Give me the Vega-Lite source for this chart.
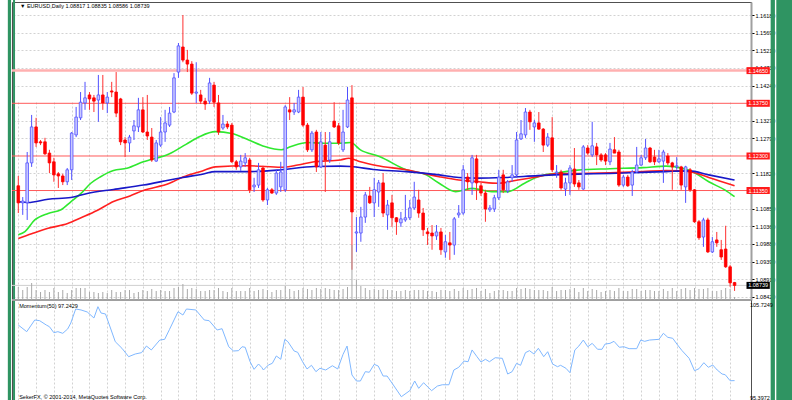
{
  "$schema": "https://vega.github.io/schema/vega-lite/v6.json",
  "width": 739,
  "height": 398,
  "autosize": {"type": "none"},
  "padding": {"left": 12, "top": 2, "right": 41, "bottom": 0},
  "background": "white",
  "config": {"view": {"stroke": "#505050", "strokeWidth": 1}, "font": "Liberation Sans", "axis": {"labelOverlap": false, "labelSeparation": 0}},
  "datasets": {
    "candles": [
      {"i":0,"o":1.1148,"h":1.1175,"l":1.1073,"c":1.1101,"v":13},
      {"i":1,"o":1.1101,"h":1.1117,"l":1.1068,"c":1.1106,"v":10},
      {"i":2,"o":1.1101,"h":1.1241,"l":1.1054,"c":1.1211,"v":13},
      {"i":3,"o":1.1211,"h":1.1343,"l":1.12,"c":1.131,"v":17},
      {"i":4,"o":1.131,"h":1.1335,"l":1.1255,"c":1.1266,"v":10},
      {"i":5,"o":1.1269,"h":1.1274,"l":1.126,"c":1.1266,"v":8},
      {"i":6,"o":1.1269,"h":1.128,"l":1.1233,"c":1.1236,"v":10},
      {"i":7,"o":1.1238,"h":1.1247,"l":1.1183,"c":1.1211,"v":8},
      {"i":8,"o":1.1214,"h":1.1225,"l":1.1159,"c":1.1178,"v":12},
      {"i":9,"o":1.1181,"h":1.1186,"l":1.1142,"c":1.1175,"v":8},
      {"i":10,"o":1.1175,"h":1.1181,"l":1.115,"c":1.1159,"v":10},
      {"i":11,"o":1.1159,"h":1.1197,"l":1.115,"c":1.1192,"v":7},
      {"i":12,"o":1.1192,"h":1.1296,"l":1.1164,"c":1.1293,"v":10},
      {"i":13,"o":1.1288,"h":1.1365,"l":1.1282,"c":1.1337,"v":12},
      {"i":14,"o":1.1335,"h":1.1406,"l":1.1329,"c":1.1378,"v":12},
      {"i":15,"o":1.1376,"h":1.1434,"l":1.1357,"c":1.139,"v":12},
      {"i":16,"o":1.1398,"h":1.1406,"l":1.1357,"c":1.1387,"v":8},
      {"i":17,"o":1.139,"h":1.1398,"l":1.1351,"c":1.1381,"v":8},
      {"i":18,"o":1.1384,"h":1.1453,"l":1.1324,"c":1.1398,"v":7},
      {"i":19,"o":1.1398,"h":1.1453,"l":1.1357,"c":1.1376,"v":8},
      {"i":20,"o":1.1376,"h":1.1406,"l":1.1348,"c":1.1392,"v":7},
      {"i":21,"o":1.1409,"h":1.1434,"l":1.1392,"c":1.1406,"v":10},
      {"i":22,"o":1.1406,"h":1.1461,"l":1.1337,"c":1.1348,"v":8},
      {"i":23,"o":1.1387,"h":1.139,"l":1.126,"c":1.1269,"v":8},
      {"i":24,"o":1.1274,"h":1.1282,"l":1.1227,"c":1.1266,"v":10},
      {"i":25,"o":1.1266,"h":1.1288,"l":1.1241,"c":1.1282,"v":10},
      {"i":26,"o":1.1299,"h":1.1329,"l":1.1274,"c":1.1313,"v":7},
      {"i":27,"o":1.131,"h":1.139,"l":1.1296,"c":1.1357,"v":8},
      {"i":28,"o":1.1357,"h":1.1392,"l":1.1293,"c":1.1296,"v":10},
      {"i":29,"o":1.1296,"h":1.1398,"l":1.1274,"c":1.1285,"v":9},
      {"i":30,"o":1.1282,"h":1.1307,"l":1.1214,"c":1.1219,"v":11},
      {"i":31,"o":1.1216,"h":1.1274,"l":1.1214,"c":1.1266,"v":9},
      {"i":32,"o":1.126,"h":1.1337,"l":1.1255,"c":1.1296,"v":10},
      {"i":33,"o":1.1296,"h":1.1357,"l":1.1269,"c":1.1321,"v":9},
      {"i":34,"o":1.1315,"h":1.1365,"l":1.131,"c":1.1348,"v":9},
      {"i":35,"o":1.1351,"h":1.1458,"l":1.1348,"c":1.1445,"v":12},
      {"i":36,"o":1.1461,"h":1.1541,"l":1.1445,"c":1.1533,"v":13},
      {"i":37,"o":1.153,"h":1.1618,"l":1.1488,"c":1.1494,"v":16},
      {"i":38,"o":1.1494,"h":1.1522,"l":1.1461,"c":1.1483,"v":11},
      {"i":39,"o":1.1483,"h":1.1491,"l":1.1398,"c":1.1403,"v":12},
      {"i":40,"o":1.1403,"h":1.1488,"l":1.1376,"c":1.1406,"v":11},
      {"i":41,"o":1.1398,"h":1.1412,"l":1.1373,"c":1.1381,"v":9},
      {"i":42,"o":1.1381,"h":1.139,"l":1.1357,"c":1.1373,"v":9},
      {"i":43,"o":1.1381,"h":1.1445,"l":1.1373,"c":1.1431,"v":10},
      {"i":44,"o":1.1425,"h":1.1434,"l":1.1365,"c":1.1378,"v":10},
      {"i":45,"o":1.1376,"h":1.1398,"l":1.1288,"c":1.1296,"v":12},
      {"i":46,"o":1.1307,"h":1.1343,"l":1.1302,"c":1.1318,"v":9},
      {"i":47,"o":1.1318,"h":1.1326,"l":1.1304,"c":1.131,"v":8},
      {"i":48,"o":1.1315,"h":1.1321,"l":1.1211,"c":1.1214,"v":12},
      {"i":49,"o":1.1214,"h":1.1219,"l":1.1192,"c":1.12,"v":9},
      {"i":50,"o":1.12,"h":1.1233,"l":1.1189,"c":1.1216,"v":9},
      {"i":51,"o":1.1211,"h":1.1238,"l":1.12,"c":1.1225,"v":9},
      {"i":52,"o":1.1219,"h":1.1225,"l":1.1128,"c":1.1137,"v":12},
      {"i":53,"o":1.1145,"h":1.117,"l":1.1131,"c":1.115,"v":9},
      {"i":54,"o":1.115,"h":1.1211,"l":1.1142,"c":1.1192,"v":10},
      {"i":55,"o":1.1197,"h":1.1203,"l":1.1104,"c":1.1109,"v":11},
      {"i":56,"o":1.1109,"h":1.1142,"l":1.1095,"c":1.1137,"v":10},
      {"i":57,"o":1.1137,"h":1.1142,"l":1.1126,"c":1.1128,"v":8},
      {"i":58,"o":1.1128,"h":1.1192,"l":1.1123,"c":1.1183,"v":10},
      {"i":59,"o":1.1145,"h":1.1214,"l":1.1131,"c":1.1186,"v":10},
      {"i":60,"o":1.1137,"h":1.137,"l":1.1131,"c":1.1365,"v":14},
      {"i":61,"o":1.1357,"h":1.1392,"l":1.1329,"c":1.1351,"v":11},
      {"i":62,"o":1.1351,"h":1.1376,"l":1.1343,"c":1.1357,"v":9},
      {"i":63,"o":1.1351,"h":1.1412,"l":1.1348,"c":1.1392,"v":10},
      {"i":64,"o":1.1392,"h":1.142,"l":1.131,"c":1.1315,"v":12},
      {"i":65,"o":1.1315,"h":1.1321,"l":1.1241,"c":1.1247,"v":11},
      {"i":66,"o":1.1247,"h":1.1299,"l":1.1241,"c":1.1293,"v":10},
      {"i":67,"o":1.1296,"h":1.1302,"l":1.1186,"c":1.12,"v":12},
      {"i":68,"o":1.12,"h":1.1296,"l":1.1197,"c":1.1269,"v":11},
      {"i":69,"o":1.126,"h":1.1296,"l":1.1131,"c":1.1219,"v":12},
      {"i":70,"o":1.1219,"h":1.1296,"l":1.1211,"c":1.1269,"v":11},
      {"i":71,"o":1.1326,"h":1.1378,"l":1.1307,"c":1.131,"v":10},
      {"i":72,"o":1.1313,"h":1.1321,"l":1.126,"c":1.1266,"v":10},
      {"i":73,"o":1.1247,"h":1.1357,"l":1.1241,"c":1.1296,"v":11},
      {"i":74,"o":1.131,"h":1.142,"l":1.1307,"c":1.1384,"v":13},
      {"i":75,"o":1.139,"h":1.1425,"l":1.0917,"c":1.1076,"v":55},
      {"i":76,"o":1.1018,"h":1.1062,"l":1.0966,"c":1.1021,"v":20},
      {"i":77,"o":1.1018,"h":1.109,"l":1.0994,"c":1.1062,"v":14},
      {"i":78,"o":1.1062,"h":1.1131,"l":1.1046,"c":1.1123,"v":12},
      {"i":79,"o":1.112,"h":1.1145,"l":1.1098,"c":1.1101,"v":10},
      {"i":80,"o":1.1101,"h":1.117,"l":1.1062,"c":1.1137,"v":11},
      {"i":81,"o":1.1131,"h":1.1164,"l":1.109,"c":1.1156,"v":10},
      {"i":82,"o":1.1156,"h":1.1183,"l":1.1062,"c":1.1073,"v":11},
      {"i":83,"o":1.1068,"h":1.1109,"l":1.1027,"c":1.1095,"v":10},
      {"i":84,"o":1.1101,"h":1.1123,"l":1.1035,"c":1.106,"v":10},
      {"i":85,"o":1.106,"h":1.1062,"l":1.1013,"c":1.1049,"v":9},
      {"i":86,"o":1.1046,"h":1.1076,"l":1.1035,"c":1.1057,"v":9},
      {"i":87,"o":1.1054,"h":1.1123,"l":1.1049,"c":1.106,"v":10},
      {"i":88,"o":1.106,"h":1.1109,"l":1.1054,"c":1.1087,"v":9},
      {"i":89,"o":1.1087,"h":1.1159,"l":1.1082,"c":1.1117,"v":10},
      {"i":90,"o":1.1109,"h":1.1137,"l":1.106,"c":1.1073,"v":10},
      {"i":91,"o":1.1073,"h":1.1087,"l":1.101,"c":1.1027,"v":10},
      {"i":92,"o":1.1021,"h":1.1032,"l":1.0985,"c":1.1016,"v":9},
      {"i":93,"o":1.1018,"h":1.104,"l":1.0972,"c":1.101,"v":9},
      {"i":94,"o":1.101,"h":1.104,"l":1.0999,"c":1.1021,"v":8},
      {"i":95,"o":1.1021,"h":1.1032,"l":1.0958,"c":1.0972,"v":10},
      {"i":96,"o":1.0966,"h":1.1013,"l":1.095,"c":1.0994,"v":10},
      {"i":97,"o":1.0991,"h":1.1021,"l":1.0944,"c":1.0985,"v":9},
      {"i":98,"o":1.0985,"h":1.1062,"l":1.0958,"c":1.1057,"v":11},
      {"i":99,"o":1.1068,"h":1.1095,"l":1.106,"c":1.1073,"v":9},
      {"i":100,"o":1.1073,"h":1.1205,"l":1.1068,"c":1.1192,"v":12},
      {"i":101,"o":1.1172,"h":1.1183,"l":1.1137,"c":1.1159,"v":10},
      {"i":102,"o":1.1156,"h":1.1233,"l":1.1123,"c":1.1225,"v":11},
      {"i":103,"o":1.1222,"h":1.1233,"l":1.1109,"c":1.1156,"v":12},
      {"i":104,"o":1.1148,"h":1.1156,"l":1.112,"c":1.1128,"v":9},
      {"i":105,"o":1.1128,"h":1.1137,"l":1.1049,"c":1.1084,"v":11},
      {"i":106,"o":1.1082,"h":1.1095,"l":1.1076,"c":1.1087,"v":7},
      {"i":107,"o":1.1084,"h":1.1123,"l":1.1076,"c":1.1115,"v":9},
      {"i":108,"o":1.1115,"h":1.1192,"l":1.1109,"c":1.1172,"v":10},
      {"i":109,"o":1.1178,"h":1.1192,"l":1.1128,"c":1.1137,"v":10},
      {"i":110,"o":1.1134,"h":1.1164,"l":1.1128,"c":1.1159,"v":9},
      {"i":111,"o":1.117,"h":1.1205,"l":1.1159,"c":1.1178,"v":9},
      {"i":112,"o":1.1178,"h":1.1296,"l":1.117,"c":1.1274,"v":12},
      {"i":113,"o":1.1277,"h":1.1329,"l":1.1274,"c":1.1291,"v":11},
      {"i":114,"o":1.1288,"h":1.1362,"l":1.128,"c":1.1351,"v":12},
      {"i":115,"o":1.1351,"h":1.1357,"l":1.1302,"c":1.1324,"v":11},
      {"i":116,"o":1.131,"h":1.1329,"l":1.1269,"c":1.1321,"v":10},
      {"i":117,"o":1.1321,"h":1.1351,"l":1.1302,"c":1.1304,"v":10},
      {"i":118,"o":1.1304,"h":1.1307,"l":1.1241,"c":1.126,"v":10},
      {"i":119,"o":1.126,"h":1.1293,"l":1.1255,"c":1.1282,"v":9},
      {"i":120,"o":1.128,"h":1.1337,"l":1.1186,"c":1.1192,"v":13},
      {"i":121,"o":1.1183,"h":1.1205,"l":1.117,"c":1.1186,"v":9},
      {"i":122,"o":1.1186,"h":1.1192,"l":1.1137,"c":1.1142,"v":10},
      {"i":123,"o":1.1139,"h":1.117,"l":1.112,"c":1.1156,"v":10},
      {"i":124,"o":1.1156,"h":1.1205,"l":1.1123,"c":1.1197,"v":11},
      {"i":125,"o":1.1194,"h":1.1252,"l":1.1145,"c":1.1153,"v":12},
      {"i":126,"o":1.1156,"h":1.1164,"l":1.1137,"c":1.1145,"v":8},
      {"i":127,"o":1.1139,"h":1.126,"l":1.1137,"c":1.1255,"v":12},
      {"i":128,"o":1.1252,"h":1.126,"l":1.1233,"c":1.1238,"v":9},
      {"i":129,"o":1.1233,"h":1.1324,"l":1.1227,"c":1.1258,"v":11},
      {"i":130,"o":1.1255,"h":1.1266,"l":1.1205,"c":1.1233,"v":10},
      {"i":131,"o":1.1233,"h":1.1238,"l":1.1214,"c":1.1219,"v":8},
      {"i":132,"o":1.1233,"h":1.1238,"l":1.1205,"c":1.1216,"v":9},
      {"i":133,"o":1.1214,"h":1.1266,"l":1.1205,"c":1.1249,"v":10},
      {"i":134,"o":1.1247,"h":1.1282,"l":1.1238,"c":1.1238,"v":9},
      {"i":135,"o":1.1241,"h":1.1247,"l":1.1145,"c":1.115,"v":12},
      {"i":136,"o":1.115,"h":1.1178,"l":1.1145,"c":1.1172,"v":9},
      {"i":137,"o":1.1172,"h":1.1178,"l":1.1145,"c":1.1148,"v":9},
      {"i":138,"o":1.115,"h":1.1192,"l":1.112,"c":1.1186,"v":11},
      {"i":139,"o":1.1186,"h":1.1255,"l":1.1183,"c":1.1205,"v":11},
      {"i":140,"o":1.1205,"h":1.1233,"l":1.1203,"c":1.1225,"v":9},
      {"i":141,"o":1.1225,"h":1.1277,"l":1.1219,"c":1.1252,"v":10},
      {"i":142,"o":1.1252,"h":1.1255,"l":1.1211,"c":1.1214,"v":10},
      {"i":143,"o":1.1227,"h":1.1247,"l":1.1205,"c":1.1214,"v":9},
      {"i":144,"o":1.1214,"h":1.1247,"l":1.1211,"c":1.1222,"v":9},
      {"i":145,"o":1.1216,"h":1.1247,"l":1.1156,"c":1.1241,"v":11},
      {"i":146,"o":1.123,"h":1.1238,"l":1.1205,"c":1.1211,"v":9},
      {"i":147,"o":1.1211,"h":1.1214,"l":1.1137,"c":1.12,"v":12},
      {"i":148,"o":1.12,"h":1.1227,"l":1.1192,"c":1.1203,"v":9},
      {"i":149,"o":1.12,"h":1.1203,"l":1.1137,"c":1.115,"v":11},
      {"i":150,"o":1.1145,"h":1.1203,"l":1.1101,"c":1.12,"v":12},
      {"i":151,"o":1.1192,"h":1.1197,"l":1.1131,"c":1.1137,"v":10},
      {"i":152,"o":1.1137,"h":1.1139,"l":1.1046,"c":1.1049,"v":12},
      {"i":153,"o":1.1049,"h":1.1054,"l":1.0999,"c":1.1005,"v":11},
      {"i":154,"o":1.1007,"h":1.106,"l":1.098,"c":1.1054,"v":11},
      {"i":155,"o":1.1054,"h":1.106,"l":1.0963,"c":1.0966,"v":12},
      {"i":156,"o":1.0966,"h":1.1007,"l":1.0963,"c":1.0994,"v":9},
      {"i":157,"o":1.0999,"h":1.1021,"l":1.098,"c":1.0991,"v":9},
      {"i":158,"o":1.0972,"h":1.0999,"l":1.0944,"c":1.0952,"v":10},
      {"i":159,"o":1.0974,"h":1.1038,"l":1.0922,"c":1.0925,"v":12},
      {"i":160,"o":1.0925,"h":1.093,"l":1.087,"c":1.0881,"v":11},
      {"i":161,"o":1.08817,"h":1.08835,"l":1.08586,"c":1.08739,"v":3}
    ],
    "ma": [
      {"k":"g","i":0,"p":1.1013},{"k":"g","i":1.5,"p":1.1022},{"k":"g","i":3.7,"p":1.1054},{"k":"g","i":6.7,"p":1.1072},{"k":"g","i":9.6,"p":1.1082},{"k":"g","i":11.8,"p":1.1104},{"k":"g","i":14.1,"p":1.1127},{"k":"g","i":16.3,"p":1.1155},{"k":"g","i":18.5,"p":1.1173},{"k":"g","i":21.4,"p":1.119},{"k":"g","i":24.4,"p":1.1196},{"k":"g","i":28.1,"p":1.1214},{"k":"g","i":34,"p":1.1236},{"k":"g","i":37.7,"p":1.1262},{"k":"g","i":40.7,"p":1.1283},{"k":"g","i":44.3,"p":1.1297},{"k":"g","i":48,"p":1.1292},{"k":"g","i":51.8,"p":1.1274},{"k":"g","i":55.4,"p":1.1256},{"k":"g","i":59.1,"p":1.1247},{"k":"g","i":61.3,"p":1.1256},{"k":"g","i":65,"p":1.1267},{"k":"g","i":68.7,"p":1.1265},{"k":"g","i":72.4,"p":1.1265},{"k":"g","i":74.7,"p":1.1267},{"k":"g","i":76.9,"p":1.1247},{"k":"g","i":81.3,"p":1.1228},{"k":"g","i":87.2,"p":1.1192},{"k":"g","i":91.7,"p":1.1178},{"k":"g","i":94.6,"p":1.1155},{"k":"g","i":98.3,"p":1.1132},{"k":"g","i":102,"p":1.1141},{"k":"g","i":106.4,"p":1.1132},{"k":"g","i":110.1,"p":1.1132},{"k":"g","i":113.8,"p":1.1155},{"k":"g","i":116.8,"p":1.1173},{"k":"g","i":120.5,"p":1.1182},{"k":"g","i":125.7,"p":1.1191},{"k":"g","i":133,"p":1.1195},{"k":"g","i":140.4,"p":1.1198},{"k":"g","i":145.6,"p":1.1202},{"k":"g","i":149.3,"p":1.1196},{"k":"g","i":151.5,"p":1.1187},{"k":"g","i":155.2,"p":1.1159},{"k":"g","i":158.9,"p":1.1136},{"k":"g","i":161,"p":1.1118},
      {"k":"r","i":0,"p":1.1003},{"k":"r","i":3,"p":1.1016},{"k":"r","i":6.7,"p":1.1031},{"k":"r","i":11.1,"p":1.1044},{"k":"r","i":14.1,"p":1.106},{"k":"r","i":17.7,"p":1.108},{"k":"r","i":21.4,"p":1.1105},{"k":"r","i":25.1,"p":1.112},{"k":"r","i":28.1,"p":1.1135},{"k":"r","i":34,"p":1.1155},{"k":"r","i":37,"p":1.1172},{"k":"r","i":41.4,"p":1.1189},{"k":"r","i":44.3,"p":1.12},{"k":"r","i":51.8,"p":1.1203},{"k":"r","i":59.1,"p":1.1199},{"k":"r","i":62.8,"p":1.1205},{"k":"r","i":66.5,"p":1.1214},{"k":"r","i":72.4,"p":1.1219},{"k":"r","i":74.3,"p":1.1224},{"k":"r","i":76.9,"p":1.1214},{"k":"r","i":80.5,"p":1.1204},{"k":"r","i":87.2,"p":1.1192},{"k":"r","i":94.6,"p":1.1173},{"k":"r","i":99,"p":1.1164},{"k":"r","i":103.5,"p":1.1159},{"k":"r","i":107.9,"p":1.1155},{"k":"r","i":112.3,"p":1.1164},{"k":"r","i":116.8,"p":1.1173},{"k":"r","i":120.5,"p":1.1181},{"k":"r","i":125.7,"p":1.1182},{"k":"r","i":133,"p":1.1184},{"k":"r","i":140.4,"p":1.1187},{"k":"r","i":145.6,"p":1.119},{"k":"r","i":150.8,"p":1.1187},{"k":"r","i":155.2,"p":1.1171},{"k":"r","i":161,"p":1.1148},
      {"k":"b","i":0,"p":1.1104},{"k":"b","i":2.2,"p":1.1102},{"k":"b","i":6.7,"p":1.1111},{"k":"b","i":11.8,"p":1.1116},{"k":"b","i":15.5,"p":1.1127},{"k":"b","i":21.4,"p":1.1138},{"k":"b","i":28.1,"p":1.115},{"k":"b","i":34,"p":1.1164},{"k":"b","i":37,"p":1.1171},{"k":"b","i":41.4,"p":1.118},{"k":"b","i":44.3,"p":1.1187},{"k":"b","i":51.8,"p":1.1187},{"k":"b","i":59.1,"p":1.1192},{"k":"b","i":66.5,"p":1.1201},{"k":"b","i":72.4,"p":1.1202},{"k":"b","i":74.7,"p":1.1201},{"k":"b","i":79.8,"p":1.1193},{"k":"b","i":87.2,"p":1.1187},{"k":"b","i":94.6,"p":1.1178},{"k":"b","i":99,"p":1.1171},{"k":"b","i":103.5,"p":1.1169},{"k":"b","i":109.4,"p":1.1171},{"k":"b","i":116.8,"p":1.1176},{"k":"b","i":120.5,"p":1.1178},{"k":"b","i":125.7,"p":1.118},{"k":"b","i":133,"p":1.1182},{"k":"b","i":140.4,"p":1.1185},{"k":"b","i":145.6,"p":1.1187},{"k":"b","i":150.8,"p":1.1189},{"k":"b","i":155.2,"p":1.1178},{"k":"b","i":161,"p":1.1164}
    ],
    "mom": [
      {"i":0,"m":103.62},{"i":1.9,"m":102.86},{"i":3.7,"m":104.2},{"i":4.8,"m":104.12},{"i":6.3,"m":103.62},{"i":7,"m":103.43},{"i":8,"m":102.74},{"i":8.9,"m":102.86},{"i":10,"m":102.67},{"i":11.1,"m":103.17},{"i":11.8,"m":103.85},{"i":12.9,"m":105.46},{"i":14.1,"m":105.35},{"i":15.5,"m":105.12},{"i":17,"m":104.43},{"i":17.9,"m":105.7249},{"i":18.6,"m":105.0},{"i":19.6,"m":104.89},{"i":21.8,"m":101.71},{"i":23.3,"m":100.95},{"i":24.8,"m":99.99},{"i":26.3,"m":100.3},{"i":27.7,"m":100.45},{"i":28.8,"m":101.21},{"i":29.9,"m":100.76},{"i":31.8,"m":101.9},{"i":32.9,"m":101.98},{"i":34,"m":103.13},{"i":35.9,"m":105.15},{"i":37,"m":104.77},{"i":37.8,"m":105.46},{"i":39.9,"m":105.35},{"i":41.8,"m":104.2},{"i":42.9,"m":104.12},{"i":44.7,"m":103.05},{"i":45.8,"m":103.2},{"i":47.3,"m":101.13},{"i":48.4,"m":100.64},{"i":49.5,"m":100.68},{"i":50.3,"m":101.13},{"i":51,"m":101.07},{"i":52.1,"m":99.41},{"i":53,"m":98.54},{"i":54,"m":99.15},{"i":54.7,"m":98.77},{"i":55.1,"m":98.46},{"i":56.2,"m":99.03},{"i":57.1,"m":99.23},{"i":58,"m":100.07},{"i":59,"m":99.69},{"i":59.9,"m":101.98},{"i":60.6,"m":101.71},{"i":62,"m":100.64},{"i":62.8,"m":100.49},{"i":63.9,"m":99.41},{"i":64.9,"m":98.58},{"i":65.9,"m":99.0},{"i":66.9,"m":98.27},{"i":67.8,"m":98.66},{"i":69.1,"m":98.46},{"i":70.6,"m":98.95},{"i":71.8,"m":98.58},{"i":73,"m":100.26},{"i":73.9,"m":101.21},{"i":75,"m":97.89},{"i":76,"m":97.2},{"i":76.9,"m":97.2},{"i":78,"m":98.27},{"i":78.9,"m":98.2},{"i":80,"m":99.11},{"i":80.9,"m":98.92},{"i":82,"m":97.77},{"i":82.9,"m":97.77},{"i":84.3,"m":96.74},{"i":86.1,"m":95.3972},{"i":88,"m":96.09},{"i":89.1,"m":97.2},{"i":90,"m":96.36},{"i":91.1,"m":97.0},{"i":92.9,"m":96.09},{"i":94.2,"m":96.62},{"i":95.3,"m":96.77},{"i":96.8,"m":96.77},{"i":97.9,"m":98.46},{"i":99,"m":98.77},{"i":100.2,"m":99.49},{"i":101.1,"m":99.41},{"i":102,"m":100.76},{"i":103.1,"m":99.99},{"i":104,"m":99.38},{"i":105,"m":99.69},{"i":105.9,"m":99.41},{"i":107.2,"m":99.87},{"i":108.8,"m":99.8},{"i":110,"m":98.0},{"i":111,"m":98.27},{"i":112,"m":99.23},{"i":112.9,"m":99.0},{"i":114,"m":100.45},{"i":114.9,"m":100.68},{"i":115.9,"m":100.3},{"i":116.9,"m":100.95},{"i":118.1,"m":99.99},{"i":119,"m":100.56},{"i":120.1,"m":99.15},{"i":121.2,"m":98.84},{"i":121.9,"m":99.0},{"i":123.1,"m":98.66},{"i":124,"m":98.15},{"i":125.1,"m":100.76},{"i":126,"m":101.21},{"i":127,"m":101.9},{"i":128,"m":101.13},{"i":129,"m":101.52},{"i":130.2,"m":100.84},{"i":131.2,"m":100.84},{"i":131.9,"m":101.44},{"i":133,"m":101.52},{"i":133.9,"m":101.75},{"i":135.1,"m":101.07},{"i":136.1,"m":101.13},{"i":137.3,"m":100.91},{"i":139,"m":100.91},{"i":139.9,"m":101.9},{"i":140.8,"m":101.75},{"i":141.9,"m":101.9},{"i":144,"m":101.98},{"i":145,"m":102.67},{"i":146,"m":102.21},{"i":147.1,"m":102.1},{"i":148.2,"m":101.33},{"i":149.2,"m":100.68},{"i":150.8,"m":99.8},{"i":152,"m":98.38},{"i":153,"m":98.61},{"i":154.1,"m":99.3},{"i":155.1,"m":98.77},{"i":156.1,"m":99.03},{"i":157.1,"m":98.46},{"i":158.2,"m":98.0},{"i":158.9,"m":97.92},{"i":160,"m":97.23},{"i":161,"m":97.2429}
    ],
    "levels": [
      {"p":1.1465,"lbl":"1.14650","kind":"soft"},
      {"p":1.1375,"lbl":"1.13750","kind":"hard"},
      {"p":1.123,"lbl":"1.12300","kind":"hard"},
      {"p":1.1135,"lbl":"1.11350","kind":"hard"}
    ],
    "bid": [{"p":1.08739,"lbl":"1.08739"}]
  },
  "resolve": {"scale": {"y": "independent"}, "axis": {"y": "independent"}},
  "layer": [
    {
      "layer": [
        {
          "data": {"values": [{"a": -2.35, "b": -1.62}, {"a": -1.18, "b": -0.73}, {"a": 169.11, "b": 170.07}, {"a": 170.38, "b": 176}]},
          "mark": {"type": "rect", "color": "#2f9462"},
          "encoding": {
            "x": {"field": "a", "type": "quantitative", "title": null, "scale": {"domain": [-0.29, 163.57], "nice": false, "zero": false}},
            "x2": {"field": "b"},
            "y": {"datum": 1.172, "type": "quantitative", "title": null, "scale": {"domain": [1.08337, 1.16538], "range": [298, 0], "nice": false, "zero": false}},
            "y2": {"datum": 1.05}
          }
        },
        {
          "data": {"name": "levels"},
          "mark": {"type": "rule"},
          "encoding": {
            "y": {"field": "p", "type": "quantitative", "title": null, "scale": {"domain": [1.08337, 1.16538], "range": [298, 0], "nice": false, "zero": false}},
            "color": {"condition": {"test": "datum.kind === 'soft'", "value": "#ffb0b0"}, "value": "#ff5a5a"},
            "strokeWidth": {"condition": {"test": "datum.kind === 'soft'", "value": 2.5}, "value": 1}
          }
        },
        {
          "data": {"name": "bid"},
          "mark": {"type": "rule", "color": "#cfcfcf", "strokeWidth": 1},
          "encoding": {
            "y": {"field": "p", "type": "quantitative", "title": null, "scale": {"domain": [1.08337, 1.16538], "range": [298, 0], "nice": false, "zero": false}}
          }
        },
        {
          "data": {"name": "ma"},
          "mark": {"type": "line", "strokeWidth": 1.6, "interpolate": "monotone"},
          "encoding": {
            "x": {"field": "i", "type": "quantitative", "title": null, "scale": {"domain": [-0.29, 163.57], "nice": false, "zero": false}},
            "y": {"field": "p", "type": "quantitative", "title": null, "scale": {"domain": [1.08337, 1.16538], "range": [298, 0], "nice": false, "zero": false}},
            "color": {"field": "k", "type": "nominal", "scale": {"domain": ["g", "r", "b"], "range": ["#2fe82f", "#ff2020", "#1818c8"]}, "legend": null}
          }
        },
        {
          "data": {"name": "candles"},
          "mark": {"type": "rule", "strokeWidth": 1},
          "encoding": {
            "x": {"field": "i", "type": "quantitative", "title": null, "scale": {"domain": [-0.29, 163.57], "nice": false, "zero": false},
                  "axis": {"values": [0,4,8,12,16,20,24,28,32,36,40,44,48,52,56,60,64,68,72,76,80,84,88,92,96,100,104,108,112,116,120,124,128,132,136,140,144,148,152,156,160], "tickCount": 200, "grid": true, "gridColor": "#d2d2d2", "gridDash": [2, 2], "labels": false, "ticks": false, "domain": false, "title": null, "labelOverlap": false}},
            "y": {"field": "l", "type": "quantitative", "title": null, "scale": {"domain": [1.08337, 1.16538], "range": [298, 0], "nice": false, "zero": false},
                  "axis": {"orient": "right", "title": null, "values": [1.0842,1.0891,1.0939,1.0988,1.1036,1.1085,1.1182,1.1279,1.1327,1.1424,1.1473,1.1521,1.1569,1.1618], "tickCount": 200, "format": ".5f", "grid": true, "gridColor": "#d2d2d2", "gridDash": [2, 2], "tickSize": 3, "tickColor": "#000000", "labelFontSize": 5.5, "labelFont": "Liberation Sans", "labelColor": "#000000", "labelPadding": 1, "labelFlush": false, "labelOverlap": false, "labelSeparation": 0, "domainColor": "#a0a0a0", "domainWidth": 2}},
            "y2": {"field": "h"},
            "color": {"condition": {"test": "datum.c >= datum.o", "value": "#5050ff"}, "value": "#ff3030"}
          }
        },
        {
          "data": {"name": "candles"},
          "mark": {"type": "bar", "width": 2.6, "strokeWidth": 0.8},
          "encoding": {
            "x": {"field": "i", "type": "quantitative", "title": null, "scale": {"domain": [-0.29, 163.57], "nice": false, "zero": false}},
            "y": {"field": "o", "type": "quantitative", "title": null, "scale": {"domain": [1.08337, 1.16538], "range": [298, 0], "nice": false, "zero": false}},
            "y2": {"field": "c"},
            "fill": {"condition": {"test": "datum.c >= datum.o", "value": "#c8c8ff"}, "value": "#ff0000"},
            "stroke": {"condition": {"test": "datum.c >= datum.o", "value": "#5050ff"}, "value": "#ff0000"}
          }
        },
        {
          "data": {"values": [{}]},
          "mark": {"type": "rule", "color": "#a0a0a0", "strokeWidth": 2},
          "encoding": {
            "y": {"datum": 1.08337, "type": "quantitative", "title": null, "scale": {"domain": [1.08337, 1.16538], "range": [298, 0], "nice": false, "zero": false}}
          }
        },
        {
          "data": {"name": "levels"},
          "mark": {"type": "point", "shape": "M-1,-0.3H1V0.3H-1Z", "filled": true, "size": 543, "opacity": 1},
          "encoding": {
            "x": {"datum": 166.3, "type": "quantitative", "title": null, "scale": {"domain": [-0.29, 163.57], "nice": false, "zero": false}},
            "y": {"field": "p", "type": "quantitative", "title": null, "scale": {"domain": [1.08337, 1.16538], "range": [298, 0], "nice": false, "zero": false}},
            "color": {"value": "#ff1a1a"}
          }
        },
        {
          "data": {"name": "bid"},
          "mark": {"type": "point", "shape": "M-1,-0.3H1V0.3H-1Z", "filled": true, "size": 543, "opacity": 1},
          "encoding": {
            "x": {"datum": 166.3, "type": "quantitative", "title": null, "scale": {"domain": [-0.29, 163.57], "nice": false, "zero": false}},
            "y": {"field": "p", "type": "quantitative", "title": null, "scale": {"domain": [1.08337, 1.16538], "range": [298, 0], "nice": false, "zero": false}},
            "color": {"value": "#000000"}
          }
        },
        {
          "data": {"name": "levels"},
          "mark": {"type": "text", "fontSize": 5.5, "color": "#ffffff", "align": "center", "baseline": "middle", "font": "Liberation Sans"},
          "encoding": {
            "x": {"datum": 166.3, "type": "quantitative", "title": null, "scale": {"domain": [-0.29, 163.57], "nice": false, "zero": false}},
            "y": {"field": "p", "type": "quantitative", "title": null, "scale": {"domain": [1.08337, 1.16538], "range": [298, 0], "nice": false, "zero": false}},
            "text": {"field": "lbl"}
          }
        },
        {
          "data": {"name": "bid"},
          "mark": {"type": "text", "fontSize": 5.5, "color": "#ffffff", "align": "center", "baseline": "middle", "font": "Liberation Sans"},
          "encoding": {
            "x": {"datum": 166.3, "type": "quantitative", "title": null, "scale": {"domain": [-0.29, 163.57], "nice": false, "zero": false}},
            "y": {"field": "p", "type": "quantitative", "title": null, "scale": {"domain": [1.08337, 1.16538], "range": [298, 0], "nice": false, "zero": false}},
            "text": {"field": "lbl"}
          }
        },
        {
          "data": {"values": [{"t": "▼ EURUSD,Daily  1.08817 1.08835 1.08586 1.08739"}]},
          "mark": {"type": "text", "fontSize": 5.5, "color": "#000000", "align": "left", "baseline": "middle", "font": "Liberation Sans"},
          "encoding": {
            "x": {"datum": 0.38, "type": "quantitative", "title": null, "scale": {"domain": [-0.29, 163.57], "nice": false, "zero": false}},
            "y": {"datum": 1.1644, "type": "quantitative", "title": null, "scale": {"domain": [1.08337, 1.16538], "range": [298, 0], "nice": false, "zero": false}},
            "text": {"field": "t"}
          }
        }
      ]
    },
    {
      "layer": [
        {
          "data": {"name": "mom"},
          "mark": {"type": "line", "color": "#80b8ff", "strokeWidth": 1},
          "encoding": {
            "x": {"field": "i", "type": "quantitative", "title": null, "scale": {"domain": [-0.29, 163.57], "nice": false, "zero": false}},
            "y": {"field": "m", "type": "quantitative", "scale": {"domain": [95.019, 106.264], "range": [398, 300], "nice": false, "zero": false}, "axis": null}
          }
        },
        {
          "data": {"values": [{"t": "Momentum(50) 97.2429", "xi": 0.2, "ym": 105.86}, {"t": "SekerFX, © 2001-2014, MetaQuotes Software Corp.", "xi": 0.2, "ym": 95.42}, {"t": "105.7249", "xi": 164.46, "ym": 105.92}, {"t": "95.3972", "xi": 164.46, "ym": 95.25}]},
          "mark": {"type": "text", "fontSize": 5.5, "color": "#000000", "align": "left", "baseline": "middle", "font": "Liberation Sans"},
          "encoding": {
            "x": {"field": "xi", "type": "quantitative", "title": null, "scale": {"domain": [-0.29, 163.57], "nice": false, "zero": false}},
            "y": {"field": "ym", "type": "quantitative", "scale": {"domain": [95.019, 106.264], "range": [398, 300], "nice": false, "zero": false}, "axis": null},
            "text": {"field": "t"}
          }
        }
      ]
    },
    {
      "data": {"name": "candles"},
      "mark": {"type": "rule", "color": "#a8a8a8", "strokeWidth": 1},
      "encoding": {
        "x": {"field": "i", "type": "quantitative", "title": null, "scale": {"domain": [-0.29, 163.57], "nice": false, "zero": false}},
        "y": {"field": "v", "type": "quantitative", "scale": {"domain": [0, 60], "range": [298, 238], "nice": false, "zero": false}, "axis": null},
        "y2": {"datum": 0}
      }
    }
  ]
}
